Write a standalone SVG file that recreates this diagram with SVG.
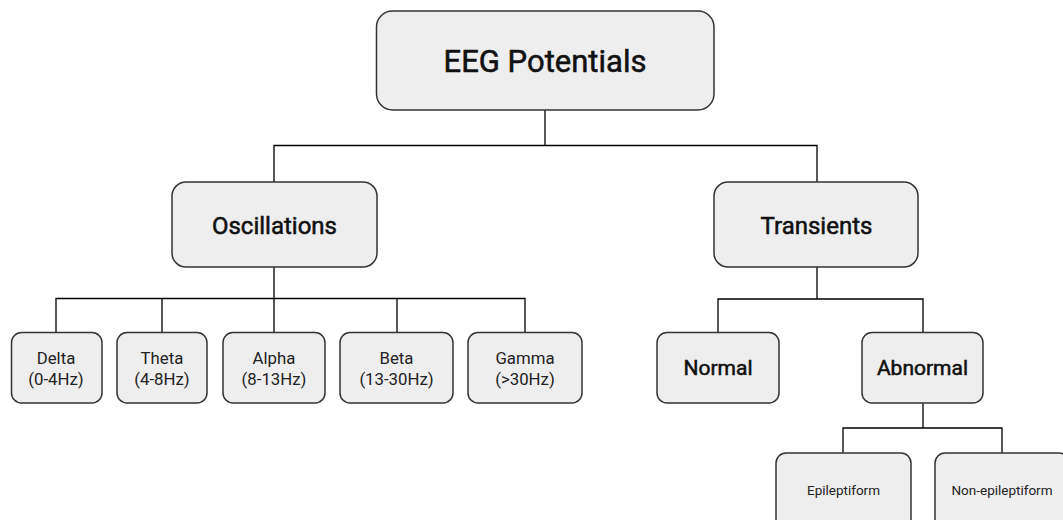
<svg xmlns="http://www.w3.org/2000/svg" width="1063" height="520" viewBox="0 0 1063 520">
<style>
.box{fill:#eeeeee;stroke:#333333;stroke-width:1.5}
.c{fill:none;stroke:#000000;stroke-width:1.3}
text{font-family:Roboto,"Liberation Sans",sans-serif;fill:#111111;text-anchor:middle;font-weight:400}
.m{stroke:#111111;stroke-width:0.55;paint-order:stroke}
.t0{font-size:31px}
.t1{font-size:24px}
.t2{font-size:21px}
.t3{font-size:16.8px;fill:#222222}
.t4{font-size:13.5px;fill:#222222}
</style>
<rect width="1063" height="520" fill="#ffffff"/>
<g id="connectors">
<path class="c" d="M545 110V145.5M274 182V145.5H817V182"/>
<path class="c" d="M274 267V298.5M56 332V298.5H525V332M162 298.5V332M274 298.5V332M397 298.5V332"/>
<path class="c" d="M817 267V299M718 332V299H923V332"/>
<path class="c" d="M923 403V428M843 453V428H1002V453"/>
</g>
<g id="n-eeg"><rect class="box" x="376.5" y="11" width="337.5" height="99" rx="16"/><text class="t0 m" x="545" y="72">EEG Potentials</text></g>
<g id="n-osc"><rect class="box" x="172" y="182" width="205" height="85" rx="14"/><text class="t1 m" x="274.5" y="234">Oscillations</text></g>
<g id="n-tra"><rect class="box" x="714" y="182" width="204" height="85" rx="14"/><text class="t1 m" x="816.5" y="234">Transients</text></g>
<g id="n-delta"><rect class="box" x="11.5" y="332.5" width="90.5" height="70.5" rx="10"/><text class="t3" x="56" y="364">Delta</text><text class="t3" x="56" y="385">(0-4Hz)</text></g>
<g id="n-theta"><rect class="box" x="117" y="332.5" width="90" height="70.5" rx="10"/><text class="t3" x="162" y="364">Theta</text><text class="t3" x="162" y="385">(4-8Hz)</text></g>
<g id="n-alpha"><rect class="box" x="223" y="332.5" width="102" height="70.5" rx="10"/><text class="t3" x="274" y="364">Alpha</text><text class="t3" x="274" y="385">(8-13Hz)</text></g>
<g id="n-beta"><rect class="box" x="340" y="332.5" width="113" height="70.5" rx="10"/><text class="t3" x="396.5" y="364">Beta</text><text class="t3" x="396.5" y="385">(13-30Hz)</text></g>
<g id="n-gamma"><rect class="box" x="468" y="332.5" width="114" height="70.5" rx="10"/><text class="t3" x="525" y="364">Gamma</text><text class="t3" x="525" y="385">(&gt;30Hz)</text></g>
<g id="n-normal"><rect class="box" x="657" y="332.5" width="122" height="70.5" rx="10"/><text class="t2 m" x="718" y="375">Normal</text></g>
<g id="n-abnormal"><rect class="box" x="862" y="332.5" width="121" height="70.5" rx="10"/><text class="t2 m" x="922.5" y="375">Abnormal</text></g>
<g id="n-epi"><rect class="box" x="776" y="453" width="135" height="80" rx="10"/><text class="t4" x="843.5" y="495">Epileptiform</text></g>
<g id="n-nonepi"><rect class="box" x="935" y="453" width="134" height="80" rx="10"/><text class="t4" x="1002" y="495">Non-epileptiform</text></g>
</svg>
